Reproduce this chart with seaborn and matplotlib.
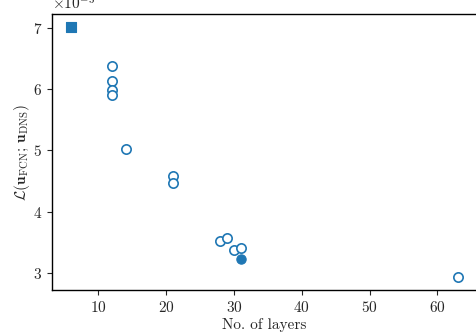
import matplotlib
matplotlib.use("Agg")
import matplotlib.pyplot as plt
import seaborn as sns
import pandas as pd

# open-circle models
layers_open = [12, 12, 12, 12, 14, 21, 21, 28, 29, 30, 31, 63]
loss_open = [6.39, 6.14, 5.99, 5.91, 5.02, 4.58, 4.46, 3.51, 3.57, 3.37, 3.41, 2.92]
# highlighted models
layers_square = [6]
loss_square = [7.03]
layers_filled = [31]
loss_filled = [3.22]

scale = 1e-3

sns.set_style("ticks")
plt.rcParams["font.family"] = "serif"
plt.rcParams["font.serif"] = ["cmr10", "DejaVu Serif"]
plt.rcParams["mathtext.fontset"] = "cm"
plt.rcParams["axes.formatter.use_mathtext"] = True
plt.rcParams["font.size"] = 11
plt.rcParams["axes.unicode_minus"] = False

blue = "#1f77b4"

fig = plt.figure(figsize=(4.76, 3.36), dpi=100)
ax = fig.add_axes([52/476, 46/336, 425/476, 276/336])

df_open = pd.DataFrame({"x": layers_open, "y": [v*scale for v in loss_open]})
df_sq = pd.DataFrame({"x": layers_square, "y": [v*scale for v in loss_square]})
df_f = pd.DataFrame({"x": layers_filled, "y": [v*scale for v in loss_filled]})

sns.scatterplot(data=df_open, x="x", y="y", ax=ax, marker="o", s=45,
                facecolor="white", edgecolor=blue, linewidth=1.2)
sns.scatterplot(data=df_sq, x="x", y="y", ax=ax, marker="s", s=45,
                color=blue, edgecolor=blue, linewidth=0.8)
sns.scatterplot(data=df_f, x="x", y="y", ax=ax, marker="o", s=45,
                color=blue, edgecolor=blue, linewidth=0.8)

ax.set_xlabel("No. of layers", labelpad=2, fontsize=11)
ax.set_ylabel(r"$\mathcal{L}(\mathbf{u}_\mathrm{FCN};\, \mathbf{u}_\mathrm{DNS})$", fontsize=11)
ax.yaxis.set_label_coords(-0.047, 0.5)
ax.set_xticks([10, 20, 30, 40, 50, 60])
ax.set_yticks([3e-3, 4e-3, 5e-3, 6e-3, 7e-3])
ax.ticklabel_format(axis="y", style="sci", scilimits=(0, 0))
ax.tick_params(direction="out", length=3.5, width=0.8, labelsize=11)
ax.yaxis.get_offset_text().set_fontsize(11)
for s in ax.spines.values():
    s.set_linewidth(1.0)
    s.set_color("black")

fig.savefig("out.png", dpi=100)
